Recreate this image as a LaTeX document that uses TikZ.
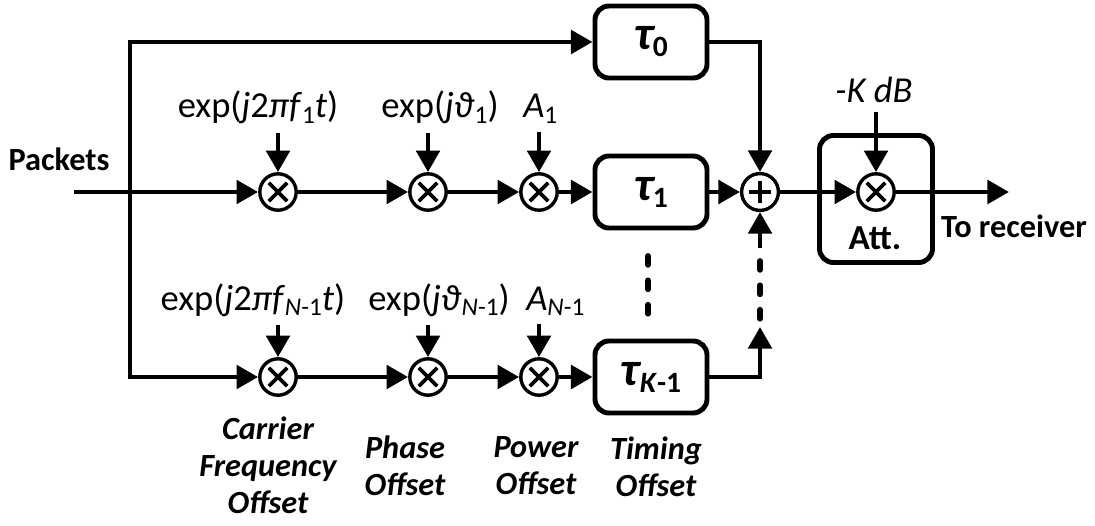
\documentclass[tikz,border=0pt]{standalone}
\usepackage{fontspec}
\setmainfont{Carlito}
\usetikzlibrary{arrows.meta}
\usetikzlibrary{math}

\tikzset{
  wire/.style={line width=3.5pt},
  arr/.style={wire, -{Triangle[length=0.54cm,width=0.58cm]}},
  dots/.style={line width=4.2pt, line cap=round, dash pattern=on 0.22cm off 0.39cm},
  mixer/.style={circle, draw, line width=2.4pt, minimum size=0.91cm, inner sep=0pt,
    path picture={\draw[line width=2.6pt]
      ([shift={(-0.23cm,-0.23cm)}]path picture bounding box.center) -- ([shift={(0.23cm,0.23cm)}]path picture bounding box.center)
      ([shift={(-0.23cm,0.23cm)}]path picture bounding box.center) -- ([shift={(0.23cm,-0.23cm)}]path picture bounding box.center);}},
  adder/.style={circle, draw, line width=2.4pt, minimum size=0.92cm, inner sep=0pt,
    path picture={\draw[line width=2.6pt]
      ([shift={(-0.28cm,0cm)}]path picture bounding box.center) -- ([shift={(0.28cm,0cm)}]path picture bounding box.center)
      ([shift={(0cm,0.28cm)}]path picture bounding box.center) -- ([shift={(0cm,-0.28cm)}]path picture bounding box.center);}},
  delay/.style={draw, line width=3.5pt, rounded corners=0.35cm, minimum width=2.8cm, minimum height=1.8cm,
    inner sep=0pt, font=\fontsize{34}{34}\selectfont\bfseries\itshape},
  lbl/.style={anchor=base, inner xsep=0pt, inner ysep=0.2cm},
  note/.style={align=center, font=\fontsize{23}{26.2}\selectfont\bfseries\itshape},
  bold/.style={font=\fontsize{23}{27}\selectfont\bfseries},
}
\newcommand{\sbs}[2][18]{\raisebox{-0.3ex}{\fontsize{#1}{#1}\selectfont\upshape #2}}

\begin{document}
\begin{tikzpicture}[x=0.025cm, y=-0.025cm, font=\fontsize{26}{30}\selectfont]
\useasboundingbox (0,0) rectangle (1095,525);

\tikzmath{
\yt = 42;
\ya = 192;
\yb = 377;
\xs = 760;
}
%
\coordinate (in) at (74,\ya);
\coordinate (sp) at (130,\ya);
\node[bold, anchor=base] (pk) at (59,170) {Packets};

\foreach \r/\y in {1/\ya, 2/\yb}{
  \node[mixer] (m\r1) at (278,\y) {};
  \node[mixer] (m\r2) at (428,\y) {};
  \node[mixer] (m\r3) at (539,\y) {};
}

\node[delay] (t0) at (651,\yt) {τ\sbs[21]{0}};
\node[delay] (t1) at (651,\ya) {τ\sbs[21]{1}};
\node[delay] (tk) at (651,\yb) {τ\sbs[21]{\textit{K}-1}};

\node[adder] (sum) at (\xs,\ya) {};
\node[mixer] (am) at (876,\ya) {};
\node[draw, line width=3.5pt, rounded corners=0.35cm, minimum width=2.825cm, minimum height=3.175cm] (att) at (876,199) {};
\node[bold, anchor=base, font=\fontsize{25}{29}\selectfont\bfseries] (attl) at (875,249) {Att.};
\node[lbl] (kdb) at (874,103) {\textit{-K dB}};
\coordinate (out) at (1009,\ya);
\node[bold, anchor=base] (rx) at (1014,237) {To receiver};

% multiplier inputs
\node[lbl] (l11) at (258,118) {exp(\textit{j}2\textit{πf}\sbs{1}\textit{t})};
\node[lbl] (l12) at (440,118) {exp(\textit{jϑ}\sbs{1})};
\node[lbl, anchor=base west] (l13) at (523,118) {\textit{A}\sbs{1}\vphantom{(}};
\node[lbl] (l21) at (253,310) {exp(\textit{j}2\textit{πf}\sbs{\textit{N}-1}\textit{t})};
\node[lbl] (l22) at (439,310) {exp(\textit{jϑ}\sbs{\textit{N}-1})};
\node[lbl, anchor=base west] (l23) at (526,310) {\textit{A}\sbs{\textit{N}-1}\vphantom{(}};

\foreach \r in {1,2}{
  \foreach \c in {1,2,3}{
    \draw[arr] (l\r\c.south -| m\r\c) -- (m\r\c);
  }
  \draw[arr] (m\r1) -- (m\r2);
  \draw[arr] (m\r2) -- (m\r3);
}

\draw[arr] (in) -- (m11);
\draw[arr] (sp) |- (t0);
\draw[arr] (sp) |- (m21);
\draw[arr] (m13) -- (t1);
\draw[arr] (m23) -- (tk);
\draw[arr] (t0) -| (sum);
\draw[arr] (t1) -- (sum);

\coordinate (ck) at (\xs,327);
\coordinate (cs) at (\xs,248);
\draw[arr] (tk) -| (ck);
\draw[dots] (\xs,261) -- (\xs,319);
\draw[arr] (cs) -- (sum);
\draw[dots] (648,256) -- (648,314);

\draw[arr] (sum) -- (am);
\draw[arr] (kdb.south -| am) -- (am);
\draw[arr] (am) -- (out);

% what each stage models
\node[note] (n1) at (268,465) {Carrier\\Frequency\\Offset};
\node[note] (n2) at (405,466) {Phase\\Offset};
\node[note] (n3) at (536,466) {Power\\Offset};
\node[note] (n4) at (656,467) {Timing\\Offset};

\end{tikzpicture}
\end{document}
